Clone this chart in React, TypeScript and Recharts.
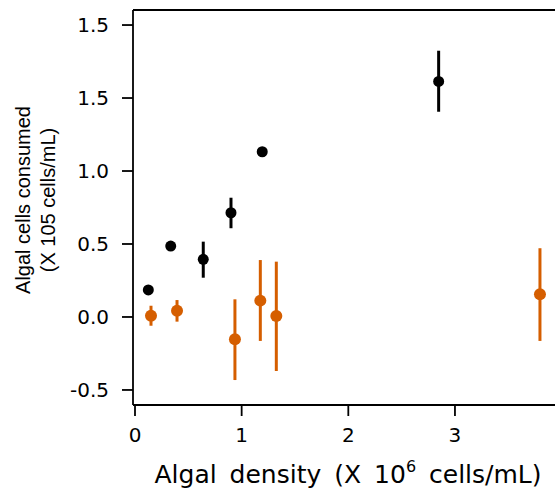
import React from "react";
import {
  ScatterChart,
  Scatter,
  XAxis,
  YAxis,
  ErrorBar,
  ReferenceLine,
  Label,
} from "recharts";

// Black series
const blackX = [0.125, 0.335, 0.64, 0.9, 1.193, 2.847];
const blackY = [0.185, 0.486, 0.395, 0.714, 1.132, 1.614];
const blackErrLow = [0, 0, 0.126, 0.106, 0, 0.208];
const blackErrHigh = [0, 0, 0.121, 0.103, 0, 0.21];

// Orange series
const orangeX = [0.15, 0.394, 0.937, 1.175, 1.325, 3.797];
const orangeY = [0.009, 0.043, -0.153, 0.112, 0.007, 0.155];
const orangeErrLow = [0.069, 0.075, 0.279, 0.276, 0.377, 0.319];
const orangeErrHigh = [0.068, 0.073, 0.274, 0.278, 0.372, 0.316];

const X_TICKS = [0, 1, 2, 3];
const Y_TICKS = [-0.5, 0, 0.5, 1, 1.5, 2];
const Y_TICK_LABELS = ["-0.5", "0.0", "0.5", "1.0", "1.5", "1.5"];

const X_DOMAIN: [number, number] = [-0.01875, 3.938];
const Y_DOMAIN: [number, number] = [-0.603, 2.103];

const ORANGE = "#D55E00";
const BLACK = "#000000";

const blackData = blackX.map((x, i) => ({
  x,
  y: blackY[i],
  err: [blackErrLow[i], blackErrHigh[i]],
}));
const orangeData = orangeX.map((x, i) => ({
  x,
  y: orangeY[i],
  err: [orangeErrLow[i], orangeErrHigh[i]],
}));

const tickStyle = { fontFamily: "DejaVu Sans", fontSize: 20, fill: "#000" };

const makeDot = (color: string, r: number) => (props: any) => (
  <circle cx={props.cx} cy={props.cy} r={r} fill={color} stroke="none" />
);

const XLabel = () => (
  <text
    x={348}
    y={483}
    textAnchor="middle"
    fontFamily="DejaVu Sans"
    fontSize={25}
    fill="#000"
    style={{ wordSpacing: 5 }}
  >
    Algal density (X 10
    <tspan fontSize={16} dy={-11}>
      6
    </tspan>
    <tspan dy={11}> cells/mL)</tspan>
  </text>
);

const YLabel = () => (
  <g>
    <text
      x={29.5}
      y={200}
      transform="rotate(-90, 29.5, 200)"
      textAnchor="middle"
      fontFamily="Liberation Sans"
      fontSize={20}
      fill="#000"
    >
      Algal cells consumed
    </text>
    <text
      x={54.5}
      y={200}
      transform="rotate(-90, 54.5, 200)"
      textAnchor="middle"
      fontFamily="Liberation Sans"
      fontSize={20}
      fill="#000"
    >
      (X 105 cells/mL)
    </text>
  </g>
);

export default function App() {
  return (
    <div style={{ position: "fixed", left: 0, top: 0, width: 555, height: 492, background: "#fff" }}>
      <ScatterChart
        width={555}
        height={492}
        margin={{ top: 10, right: 0, bottom: 0, left: 0 }}
      >
        <XAxis
          type="number"
          dataKey="x"
          domain={X_DOMAIN}
          ticks={X_TICKS}
          allowDataOverflow
          height={87}
          tickSize={11}
          tickMargin={12}
          tick={tickStyle}
          axisLine={{ stroke: "#000", strokeWidth: 1.8 }}
          tickLine={{ stroke: "#000", strokeWidth: 1.8 }}
        >
          <Label content={<XLabel />} />
        </XAxis>
        <YAxis
          type="number"
          dataKey="y"
          domain={Y_DOMAIN}
          ticks={Y_TICKS}
          allowDataOverflow
          width={133}
          tickSize={11}
          tickMargin={13}
          tick={tickStyle}
          tickFormatter={(v: number) => Y_TICK_LABELS[Y_TICKS.indexOf(v)] ?? String(v)}
          axisLine={{ stroke: "#000", strokeWidth: 1.8 }}
          tickLine={{ stroke: "#000", strokeWidth: 1.8 }}
        >
          <Label content={<YLabel />} />
        </YAxis>
        <ReferenceLine y={Y_DOMAIN[1]} stroke="#000" strokeWidth={1.8} />
        <Scatter
          data={blackData}
          fill={BLACK}
          shape={makeDot(BLACK, 5.5)}
          isAnimationActive={false}
        >
          <ErrorBar
            dataKey="err"
            direction="y"
            width={0}
            stroke={BLACK}
            strokeWidth={3}
            isAnimationActive={false}
          />
        </Scatter>
        <Scatter
          data={orangeData}
          fill={ORANGE}
          shape={makeDot(ORANGE, 6)}
          isAnimationActive={false}
        >
          <ErrorBar
            dataKey="err"
            direction="y"
            width={0}
            stroke={ORANGE}
            strokeWidth={3}
            isAnimationActive={false}
          />
        </Scatter>
      </ScatterChart>
    </div>
  );
}
